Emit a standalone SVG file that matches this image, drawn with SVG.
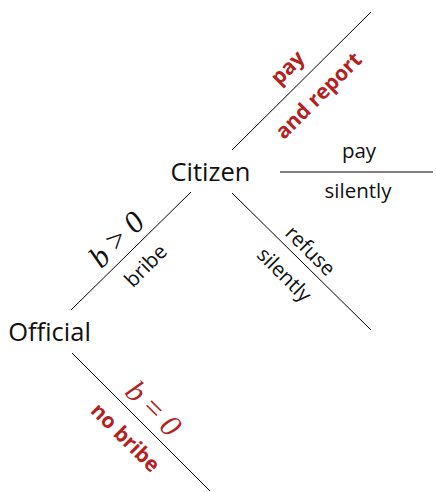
<svg xmlns="http://www.w3.org/2000/svg" width="436" height="492" viewBox="0 0 436 492">
<style>
.edge{stroke:#000;stroke-width:1;fill:none}
.lbl{font-family:"Open Sans","Noto Sans",sans-serif;font-size:20.5px;fill:#111;text-anchor:middle;dominant-baseline:central}
.node{font-family:"Open Sans","Noto Sans",sans-serif;font-size:25.5px;fill:#111;text-anchor:middle;dominant-baseline:central}
.red{fill:#B3221F;font-weight:bold;font-size:21px}
.math{font-family:"Liberation Serif","DejaVu Serif",serif;font-size:31px;text-anchor:middle;dominant-baseline:central}
.mi{font-style:italic}
</style>
<rect width="436" height="492" fill="#fff"/>
<g id="connectors">
<line class="edge" x1="71" y1="310" x2="191" y2="192"/>
<line class="edge" x1="72" y1="353" x2="210" y2="491"/>
<line class="edge" x1="232" y1="150" x2="371" y2="12"/>
<line class="edge" x1="280" y1="172" x2="433" y2="172"/>
<line class="edge" x1="232" y1="193" x2="371" y2="330"/>
</g>
<g id="official"><text class="node" x="49.5" y="331">Official</text></g>
<g id="citizen"><text class="node" x="210.5" y="171">Citizen</text></g>
<g id="bribe-labels">
<text class="math" transform="translate(116,239) rotate(-45)" fill="#111"><tspan class="mi">b</tspan>&#160;&gt;&#160;<tspan class="mi">0</tspan></text>
<text class="lbl" transform="translate(145,265) rotate(-45)">bribe</text>
</g>
<g id="nobribe-labels">
<text class="math" transform="translate(154,408) rotate(45)" fill="#B3221F"><tspan class="mi">b</tspan>&#160;=&#160;<tspan class="mi">0</tspan></text>
<text class="lbl red" transform="translate(126,437) rotate(45)">no bribe</text>
</g>
<g id="report-labels">
<text class="lbl red" transform="translate(287,67) rotate(-45)">pay</text>
<text class="lbl red" transform="translate(318,95) rotate(-45)">and report</text>
</g>
<g id="silent-labels">
<text class="lbl" x="359" y="150">pay</text>
<text class="lbl" x="358" y="190">silently</text>
</g>
<g id="refuse-labels">
<text class="lbl" transform="translate(311,250) rotate(45)">refuse</text>
<text class="lbl" transform="translate(285,274) rotate(45)">silently</text>
</g>
</svg>
